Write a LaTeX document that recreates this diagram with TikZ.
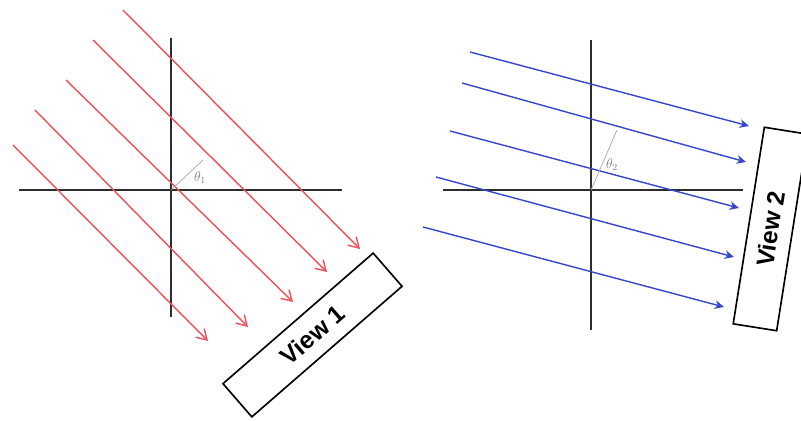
\documentclass[tikz,border=0pt]{standalone}
\usepackage{fontspec}
\setmainfont{Liberation Sans}[BoldFont={Liberation Sans Bold}]
\usepackage{tikz}
\usetikzlibrary{arrows.meta, calc}
\definecolor{rayred}{RGB}{236,80,90}
\definecolor{rayblue}{RGB}{55,70,205}
\definecolor{axisgray}{RGB}{45,45,45}

\begin{document}
\begin{tikzpicture}[
  x=0.03cm, y=-0.03cm,
  axis/.style={line width=1.7pt, axisgray},
  redray/.style={-{Straight Barb[length=3mm, width=3.6mm]}, line width=1.2pt, rayred},
  blueray/.style={-{Stealth[length=2.8mm, width=2.6mm]}, line width=1.2pt, rayblue},
  normal/.style={gray!70, line width=0.6pt},
  anglabel/.style={gray, font=\fontsize{12}{14}\selectfont},
  viewbox/.style={rectangle, draw=black, line width=1.4pt, fill=white,
              minimum width=5.97cm, minimum height=1.32cm, inner sep=0pt,
              font=\bfseries\upshape\fontsize{21}{24}\selectfont}
]
\clip (0,0) rectangle (801,421);
\useasboundingbox (0,0) rectangle (801,421);

% view 1
\coordinate (o1) at (171,190);
\draw[axis] (19,190) coordinate (h1a) -- (342,190) coordinate (h1b);
\draw[axis] (171,38) coordinate (v1a) -- (171,317) coordinate (v1b);
\foreach \i/\sx/\sy/\ex/\ey in {1/123/10/360/249, 2/93/40/327/272, 3/66/80/293/302,
                                4/35/110/248/327, 5/13/145/208/341} {
  \coordinate (r\i s) at (\sx,\sy);
  \coordinate (r\i e) at (\ex,\ey);
  \draw[redray] (r\i s) -- (r\i e);
}
\coordinate (n1) at (203,160);
\draw[normal] (o1) -- (n1);
\node[anglabel] (t1) at (200,178) {$\theta_1$};
\node[viewbox, rotate=41] (view1) at (312.5,335) {View 1};

% view 2
\coordinate (o2) at (591,190);
\draw[axis] (443,190) coordinate (h2a) -- (743,190) coordinate (h2b);
\draw[axis] (591,40) coordinate (v2a) -- (591,330) coordinate (v2b);
\foreach \i/\sx/\sy/\ex/\ey in {1/470/52/749/126, 2/462/83/746/162, 3/450/131/739/208,
                                4/436/177/734/257, 5/423/227/724/307} {
  \coordinate (b\i s) at (\sx,\sy);
  \coordinate (b\i e) at (\ex,\ey);
  \draw[blueray] (b\i s) -- (b\i e);
}
\coordinate (n2) at (617,130);
\draw[normal] (o2) -- (n2);
\node[anglabel] (t2) at (612,165) {$\theta_2$};
\node[viewbox, rotate=81] (view2) at (770.5,229) {View 2};
\end{tikzpicture}
\end{document}
